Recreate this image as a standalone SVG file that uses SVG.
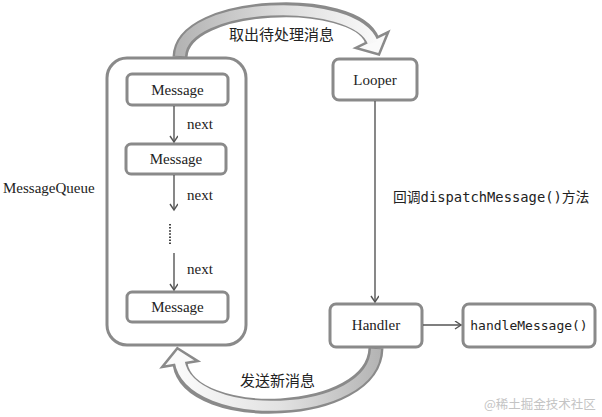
<svg xmlns="http://www.w3.org/2000/svg" width="602" height="417" viewBox="0 0 602 417">
<style>
.box{fill:#fff;stroke:#8a8a8a;stroke-width:3}
.serif{font-family:"Liberation Serif","Times New Roman",serif;font-size:15px;fill:#222}
.cjk{font-family:"Noto Sans CJK SC",sans-serif;font-size:15px;fill:#222}
.mono{font-family:"DejaVu Sans Mono",monospace;font-size:13px;fill:#222}
.conn{stroke:#555;stroke-width:1.4;fill:none}
.bandOut{stroke:#8a8a8a;stroke-width:15;fill:none}
.head{stroke:#8a8a8a;stroke-width:2.5;stroke-linejoin:miter}
</style>
<defs>
<marker id="v" markerWidth="10" markerHeight="10" refX="7" refY="4" orient="auto" markerUnits="userSpaceOnUse">
<path d="M1,0 L7,4 L1,8" fill="none" stroke="#555" stroke-width="1.4"/>
</marker>
<linearGradient id="gTop" gradientUnits="userSpaceOnUse" x1="180" y1="0" x2="380" y2="0">
<stop offset="0" stop-color="#b4b4b4"/><stop offset="0.5" stop-color="#dcdcdc"/><stop offset="1" stop-color="#fafafa"/>
</linearGradient>
<linearGradient id="gBot" gradientUnits="userSpaceOnUse" x1="380" y1="0" x2="180" y2="0">
<stop offset="0" stop-color="#b4b4b4"/><stop offset="0.5" stop-color="#e2e2e2"/><stop offset="1" stop-color="#fafafa"/>
</linearGradient>
</defs>

<g id="container">
<rect class="box" x="107" y="58" width="139" height="287" rx="20"/>
</g>
<text class="serif" x="3" y="193">MessageQueue</text>

<g id="msg1"><rect class="box" x="127" y="74" width="101" height="31" rx="5"/><text class="serif" x="177.5" y="94.5" text-anchor="middle">Message</text></g>
<g id="msg2"><rect class="box" x="126" y="144" width="100" height="30" rx="5"/><text class="serif" x="176" y="163.5" text-anchor="middle">Message</text></g>
<g id="msg3"><rect class="box" x="127" y="292" width="101" height="30" rx="5"/><text class="serif" x="177.5" y="311.5" text-anchor="middle">Message</text></g>

<g id="looper"><rect class="box" x="333" y="59" width="84" height="41" rx="6"/><text class="serif" x="375" y="85" text-anchor="middle">Looper</text></g>
<g id="handler"><rect class="box" x="330" y="304" width="92" height="43" rx="6"/><text class="serif" x="376" y="330" text-anchor="middle">Handler</text></g>
<g id="handleMessage"><rect class="box" x="463" y="304" width="132" height="43" rx="6"/><text class="mono" x="529" y="330" text-anchor="middle">handleMessage()</text></g>

<g id="connectors">
<line class="conn" x1="174" y1="106" x2="174" y2="142" marker-end="url(#v)"/>
<line class="conn" x1="174" y1="175" x2="174" y2="210" marker-end="url(#v)"/>
<line x1="170" y1="224" x2="170" y2="245" stroke="#444" stroke-width="2" stroke-dasharray="1.5,1.6"/>
<line class="conn" x1="174" y1="253" x2="174" y2="290" marker-end="url(#v)"/>
<line class="conn" x1="375" y1="101" x2="375" y2="302" marker-end="url(#v)"/>
<line class="conn" x1="423" y1="325" x2="461" y2="325" marker-end="url(#v)"/>

<g id="topArrow">
<path class="bandOut" d="M180,57 C182,0 355,-5 372,40"/>
<polygon class="head" fill="#fafafa" points="379,54.4 388.2,32.1 355.8,47.9"/>
<path d="M180,56 C182,0 355,-5 373,43" fill="none" stroke="url(#gTop)" stroke-width="10"/>
</g>
<g id="bottomArrow">
<path class="bandOut" d="M376,348 C374,420 190,425 180,364"/>
<polygon class="head" fill="#fafafa" points="177.4,348.2 197.8,361.1 162.2,366.9"/>
<path d="M376,349 C374,420 190,425 179.6,361" fill="none" stroke="url(#gBot)" stroke-width="10"/>
</g>
</g>

<text class="serif" x="187" y="129">next</text>
<text class="serif" x="187" y="200">next</text>
<text class="serif" x="187" y="274">next</text>
<text class="cjk" x="229" y="40">取出待处理消息</text>
<text class="cjk" x="240" y="386">发送新消息</text>
<text x="393" y="202" style="font-size:13.8px;fill:#222"><tspan style="font-family:'Noto Sans CJK SC',sans-serif">回调</tspan><tspan style="font-family:'DejaVu Sans Mono',monospace">dispatchMessage()</tspan><tspan style="font-family:'Noto Sans CJK SC',sans-serif">方法</tspan></text>
<text x="484" y="409" style="font-family:'Noto Sans CJK SC',sans-serif;font-size:12.5px;fill:#c4c4c4">@稀土掘金技术社区</text>
</svg>
